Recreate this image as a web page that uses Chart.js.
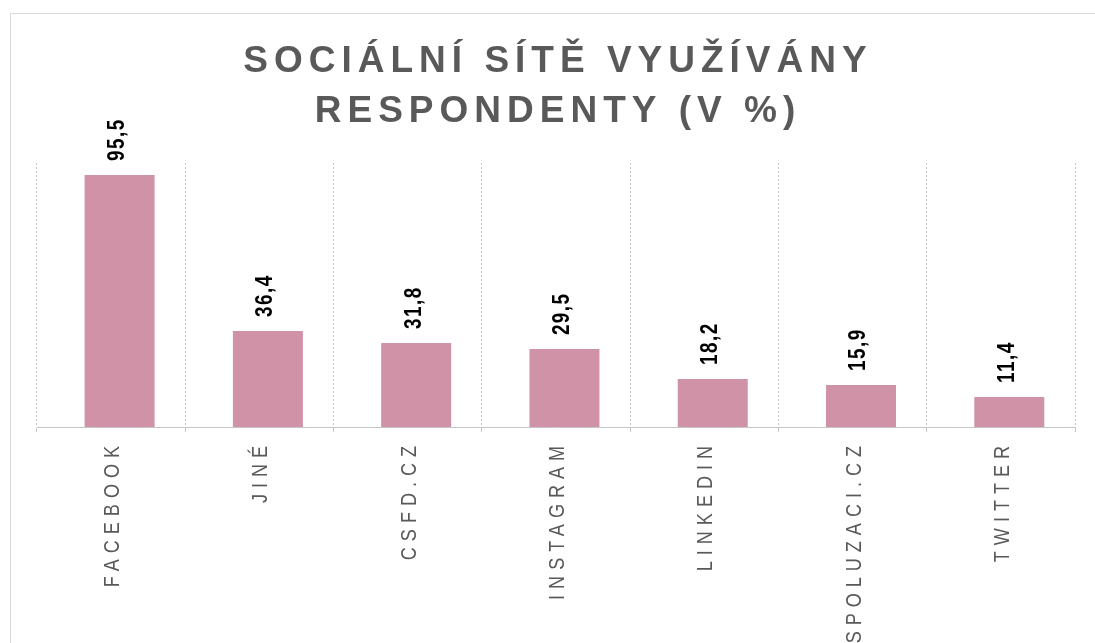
<!DOCTYPE html>
<html>
<head>
<meta charset="utf-8">
<script src="https://cdn.jsdelivr.net/npm/chart.js@4/dist/chart.umd.min.js"></script>
<style>
  html, body { margin: 0; padding: 0; background: #ffffff; }
  body { width: 1095px; height: 643px; position: relative; overflow: hidden; }
  #frame { position: absolute; left: 10px; top: 13px; width: 1100px; height: 660px; border: 1px solid #d9d9d9; box-sizing: border-box; }
  #c { position: absolute; left: 0; top: 0; }
</style>
</head>
<body>
<div id="frame"></div>
<canvas id="c" width="1095" height="643"></canvas>
<script>
// ---- data ----
const categories = ['FACEBOOK', 'JINÉ', 'CSFD.CZ', 'INSTAGRAM', 'LINKEDIN', 'SPOLUZACI.CZ', 'TWITTER'];
const values = [95.5, 36.4, 31.8, 29.5, 18.2, 15.9, 11.4];
const titleLines = ['SOCIÁLNÍ SÍTĚ VYUŽÍVÁNY', 'RESPONDENTY (V %)'];
const yMin = 0;
const yMax = 100;

const FONT = '"Liberation Sans", Arial, sans-serif';
const BAR_COLOR = '#d092a7';
const GRID_COLOR = '#c6c6c6';
const TEXT_GREY = '#595959';
const SQUEEZE = 0.82; // condensed look of the reference's rotated texts

// shift the (hidden) bar axis like the reference, where bars sit right of the category centre
const barShiftPlugin = {
  id: 'barShift',
  afterLayout(chart) {
    const s = chart.scales.xb;
    const shift = (s.right - s.left) / categories.length * 0.057;
    s.left += shift; s.right += shift;
    s.configure();
  }
};

// rotated, condensed, letter-spaced category labels placed at the x scale's tick positions
const tickLabelPlugin = {
  id: 'tickLabels',
  afterDraw(chart) {
    const ctx = chart.ctx;
    const sx = chart.scales.x;
    const labels = sx.getLabels();
    sx.ticks.forEach((t, i) => {
      const x = sx.getPixelForTick(i) + 2;
      const y = sx.top + 13;
      ctx.save();
      ctx.translate(x, y);
      ctx.rotate(-Math.PI / 2);
      ctx.scale(SQUEEZE, 1);
      ctx.letterSpacing = (6 / SQUEEZE) + 'px';
      ctx.font = '22px ' + FONT;
      ctx.fillStyle = TEXT_GREY;
      ctx.textAlign = 'right';
      ctx.textBaseline = 'middle';
      ctx.fillText(labels[t.value], 0, 0);
      ctx.restore();
    });
  }
};

// value labels above bars (rotated)
const valueLabelPlugin = {
  id: 'valueLabels',
  afterDatasetsDraw(chart) {
    const ctx = chart.ctx;
    const meta = chart.getDatasetMeta(0);
    meta.data.forEach((bar, i) => {
      const txt = values[i].toFixed(1).replace('.', ',');
      ctx.save();
      ctx.translate(bar.x - 2, bar.y - 14);
      ctx.rotate(-Math.PI / 2);
      ctx.scale(SQUEEZE, 1);
      ctx.letterSpacing = (1.5 / SQUEEZE) + 'px';
      ctx.font = 'bold 23px ' + FONT;
      ctx.fillStyle = '#000000';
      ctx.textAlign = 'left';
      ctx.textBaseline = 'middle';
      ctx.fillText(txt, 0, 0);
      ctx.restore();
    });
  }
};

// two-line letter-spaced title
const titlePlugin = {
  id: 'spacedTitle',
  afterDraw(chart) {
    const ctx = chart.ctx;
    const a = chart.chartArea;
    const cx = (a.left + a.right) / 2 + 2;
    ctx.save();
    ctx.letterSpacing = '6px';
    ctx.font = 'bold 37px ' + FONT;
    ctx.fillStyle = TEXT_GREY;
    ctx.textAlign = 'center';
    ctx.textBaseline = 'alphabetic';
    titleLines.forEach((line, i) => ctx.fillText(line, cx, 72 + i * 50));
    ctx.restore();
  }
};

new Chart(document.getElementById('c'), {
  type: 'bar',
  data: {
    labels: categories,
    datasets: [{
      data: values,
      xAxisID: 'xb',
      backgroundColor: BAR_COLOR,
      borderWidth: 0,
      categoryPercentage: 1,
      barPercentage: 0.472
    }]
  },
  options: {
    responsive: false,
    devicePixelRatio: 1,
    animation: false,
    layout: { padding: { left: 37, right: 20, top: 163, bottom: 0 } },
    plugins: {
      legend: { display: false },
      title: { display: false },
      tooltip: { enabled: false }
    },
    scales: {
      x: {
        type: 'category',
        position: 'bottom',
        offset: true,
        grid: {
          offset: true,
          display: true,
          color: GRID_COLOR,
          lineWidth: 1,
          drawTicks: true,
          tickLength: 5,
          tickColor: GRID_COLOR
        },
        border: { display: true, color: GRID_COLOR, dash: [2, 2], width: 1 },
        ticks: { display: false, autoSkip: false },
        afterFit(scale) { scale.height = 216; }
      },
      xb: {
        type: 'category',
        position: 'bottom',
        offset: true,
        display: false
      },
      y: {
        display: false,
        min: yMin,
        max: yMax
      }
    }
  },
  plugins: [barShiftPlugin, valueLabelPlugin, tickLabelPlugin, titlePlugin]
});
</script>
</body>
</html>
